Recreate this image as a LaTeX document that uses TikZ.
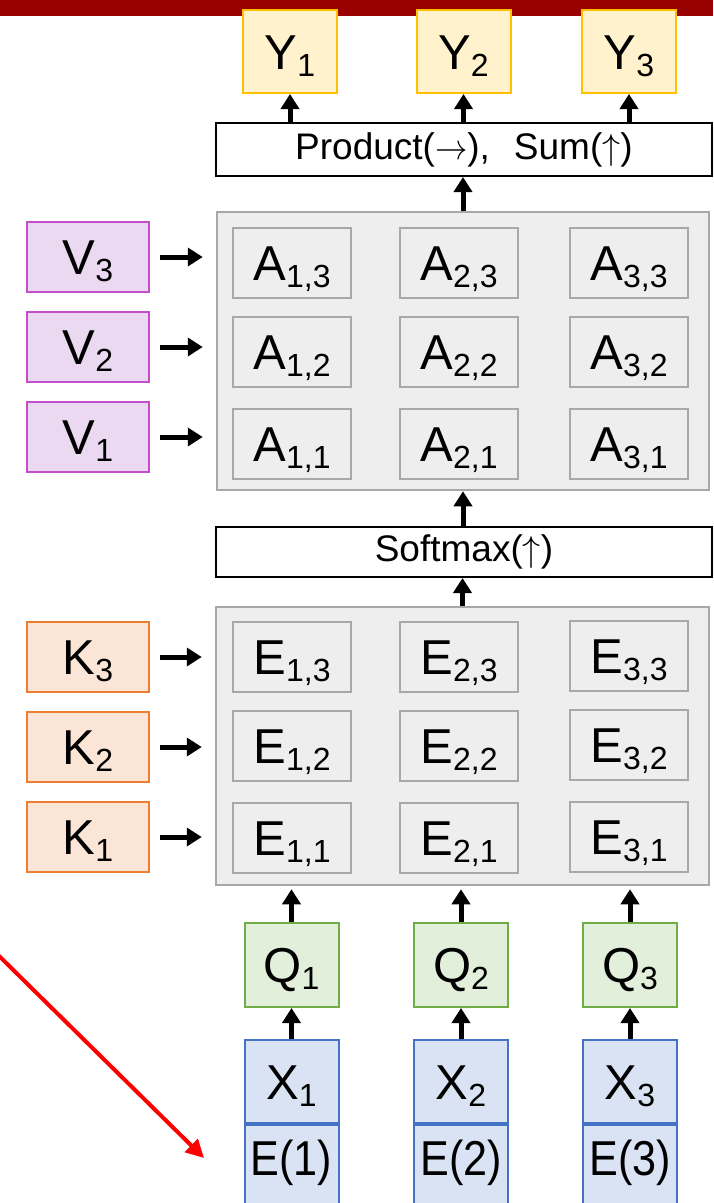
\documentclass[tikz,border=0pt]{standalone}
\usepackage{fontspec}
\setmainfont{Liberation Sans}
\usetikzlibrary{arrows.meta}
\definecolor{barred}{HTML}{990000}
\definecolor{yfill}{HTML}{FFF2CC}
\definecolor{ydraw}{HTML}{FFC000}
\definecolor{vfill}{HTML}{EAD9F1}
\definecolor{vdraw}{HTML}{C44DC9}
\definecolor{kfill}{HTML}{FBE5D6}
\definecolor{kdraw}{HTML}{ED7D31}
\definecolor{qfill}{HTML}{E2EFDA}
\definecolor{qdraw}{HTML}{70AD47}
\definecolor{xfill}{HTML}{DAE3F3}
\definecolor{xdraw}{HTML}{4472C4}
\definecolor{pfill}{HTML}{EEEEEE}
\definecolor{pdraw}{HTML}{A8A8A8}
\newcommand{\bigf}{\fontsize{49}{49}\selectfont}
\newcommand{\midf}{\fontsize{37}{37}\selectfont}
\newcommand{\sbs}[2]{#1\raisebox{-7pt}{\fontsize{32}{32}\selectfont #2}}
\newcommand{\rarr}{\scalebox{1.3}[1.45]{$\rightarrow$}}
\newcommand{\uarr}{\scalebox{1.45}{$\uparrow$}}
\begin{document}
\begin{tikzpicture}[x=1pt,y=-1pt,
  box/.style={draw, line width=2pt, minimum width=94pt, minimum height=83pt, inner sep=0pt, font=\bigf, text height=35pt, text depth=0pt},
  ybox/.style={box, fill=yfill, draw=ydraw},
  qbox/.style={box, fill=qfill, draw=qdraw, minimum height=84pt},
  xbox/.style={box, fill=xfill, draw=xdraw},
  sidebox/.style={box, minimum width=122pt, minimum height=70pt},
  vbox/.style={sidebox, fill=vfill, draw=vdraw},
  kbox/.style={sidebox, fill=kfill, draw=kdraw},
  cell/.style={box, fill=pfill, draw=pdraw, minimum width=118pt, minimum height=70pt},
  panel/.style={draw=pdraw, fill=pfill, line width=2.5pt, minimum width=492pt, minimum height=278pt, inner sep=0pt},
  wide/.style={draw=black, fill=white, line width=2pt, minimum width=496pt, inner sep=0pt, font=\midf, text height=27pt, text depth=8pt},
  arr/.style={line width=5pt, -{Triangle[length=15pt,width=18pt]}},
  redarr/.style={draw=red, line width=4pt, -{Triangle[length=18pt,width=18pt]}}
]
\useasboundingbox (0,0) rectangle (713,1203);
% top bar
\fill[barred] (0,0) rectangle (713,16);

% Y boxes
\node[ybox] (Y1) at (290,51.5) {\sbs{Y}{1}};
\node[ybox] (Y2) at (463.5,51.5) {\sbs{Y}{2}};
\node[ybox] (Y3) at (629,51.5) {\sbs{Y}{3}};

% Product box
\node[wide, minimum height=53pt] (prod) at (464,149.5) {Product(\rarr),\hspace{24pt}Sum(\uarr)};

% A panel
\node[panel] (Ap) at (463,351) {};
\foreach \r/\y in {1/444,2/352,3/263}{
  \node[cell] (A1\r) at (292,\y) {\sbs{A}{1,\r}};
  \node[cell] (A2\r) at (459,\y) {\sbs{A}{2,\r}};
  \node[cell] (A3\r) at (629,\y) {\sbs{A}{3,\r}};
}
% V boxes
\node[vbox] (V3) at (88,257) {\sbs{V}{3}};
\node[vbox] (V2) at (88,347) {\sbs{V}{2}};
\node[vbox] (V1) at (88,437) {\sbs{V}{1}};

% Softmax
\node[wide, minimum height=50pt] (soft) at (464,552) {Softmax(\uarr)};

% E panel
\node[panel, minimum width=493pt] (Ep) at (462.5,746) {};
\foreach \r/\y in {1/838,2/746,3/657}{
  \node[cell] (E1\r) at (292,\y) {\sbs{E}{1,\r}};
  \node[cell] (E2\r) at (459,\y) {\sbs{E}{2,\r}};
  \node[cell] (E3\r) at (629,\y-1) {\sbs{E}{3,\r}};
}
% K boxes
\node[kbox] (K3) at (88,657) {\sbs{K}{3}};
\node[kbox] (K2) at (88,747) {\sbs{K}{2}};
\node[kbox] (K1) at (88,837) {\sbs{K}{1}};

% Q boxes
\node[qbox] (Q1) at (291.5,965) {\sbs{Q}{1}};
\node[qbox] (Q2) at (461,965) {\sbs{Q}{2}};
\node[qbox] (Q3) at (630,965) {\sbs{Q}{3}};

% X boxes
\node[xbox] (X1) at (291.5,1081.5) {\sbs{X}{1}};
\node[xbox] (X2) at (461,1081.5) {\sbs{X}{2}};
\node[xbox] (X3) at (630,1081.5) {\sbs{X}{3}};

% position embeddings
\foreach \i in {1,2,3}{
  \node[xbox, minimum height=100pt, anchor=north, text height=36pt, text depth=36pt] (P\i) at (X\i.south) {\scalebox{0.88}[1]{E(\i)}};
}

% arrows
\foreach \i in {1,2,3}{
  \draw[arr] (Y\i.south |- prod.north) -- (Y\i.south);
  \draw[arr, shorten >=3pt] (Q\i.north) -- (Q\i.north |- Ep.south);
  \draw[arr] (X\i.north) -- (Q\i.south);
  \draw[arr, shorten <=10pt, shorten >=13pt] (V\i.east) -- (V\i.east -| Ap.west);
  \draw[arr, shorten <=10pt, shorten >=13pt] (K\i.east) -- (K\i.east -| Ep.west);
}
\draw[arr] (Ap.north) -- (Ap.north |- prod.south);
\draw[arr] (soft.north -| Ap.south) -- (Ap.south);
\draw[arr] (Ep.north) -- (Ep.north |- soft.south);

% red arrow
\coordinate (rs) at (-6,951);
\coordinate (re) at (204,1158);
\draw[redarr] (rs) -- (re);
\end{tikzpicture}
\end{document}
